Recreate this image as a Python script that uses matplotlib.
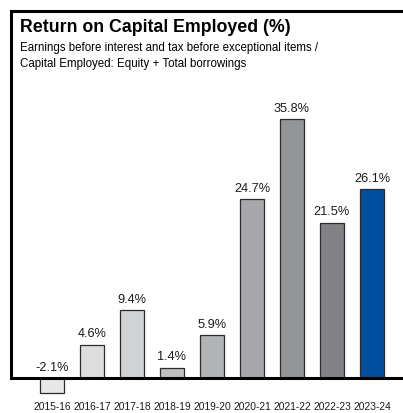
import matplotlib
matplotlib.use("Agg")
import matplotlib.pyplot as plt
from matplotlib import font_manager

# data
years = ['2015-16', '2016-17', '2017-18', '2018-19', '2019-20',
         '2020-21', '2021-22', '2022-23', '2023-24']
roce = [-2.1, 4.6, 9.4, 1.4, 5.9, 24.7, 35.8, 21.5, 26.1]
bar_colors = ['#e8e8e8', '#dcdddf', '#d1d2d4', '#bfc0c2', '#b1b3b6',
              '#a6a8ab', '#939598', '#808285', '#004f9f']

title = 'Return on Capital Employed (%)'
subtitle = ('Earnings before interest and tax before exceptional items /\n'
            'Capital Employed: Equity + Total borrowings')

names = {f.name for f in font_manager.fontManager.ttflist}
narrow = 'Liberation Sans Narrow' if 'Liberation Sans Narrow' in names else 'Liberation Sans'
plt.rcParams['font.family'] = ['Liberation Sans', 'DejaVu Sans']

W, H = 403, 414
fig = plt.figure(figsize=(W / 100, H / 100), dpi=100)

# axes: left edge at x=11px, top at y=12px, bottom at figure bottom
ax = fig.add_axes([11 / W, 0, 1.02 - 11 / W, (H - 12) / H])
px = 7.23  # pixels per percentage point
ytop = (379 - 12) / px
ybot = -(H - 379) / px
ax.set_ylim(ybot, ytop)

x = list(range(len(years)))
# bar centres at 52..373 px -> 40 px apart
ax.set_xlim(-(52 - 11) / 40, -(52 - 11) / 40 + (W * 1.02 - 11) / 40)

ax.bar(x, roce, width=0.62, color=bar_colors, edgecolor='#2b2b2b', linewidth=0.9, zorder=2)

for xi, v in zip(x, roce):
    ypos = max(v, 0) + 0.75
    ax.text(xi, ypos, f'{v:.1f}%', ha='center', va='bottom', fontsize=9.2,
            family=[narrow, 'DejaVu Sans'], color='#1a1a1a')

for xi, lab in zip(x, years):
    ax.text(xi, -(407 - 379) / px, lab, ha='center', va='center', fontsize=7.4,
            family=[narrow, 'DejaVu Sans'], color='#1a1a1a')

ax.axhline(0, color='black', lw=2.2, zorder=3)
for s in ['right', 'bottom']:
    ax.spines[s].set_visible(False)
ax.spines['top'].set_linewidth(2.2)
ax.spines['left'].set_linewidth(2.2)
ax.spines['left'].set_bounds(0, ytop)
ax.set_xticks([])
ax.set_yticks([])
ax.patch.set_alpha(0)

fig.text(20 / W, 1 - 28 / H, title, fontsize=12.8, fontweight='bold', va='center', ha='left')
fig.text(20 / W, 1 - 42 / H, subtitle, fontsize=8.3, va='top', ha='left', linespacing=1.4)

fig.savefig('out.png', dpi=100)
